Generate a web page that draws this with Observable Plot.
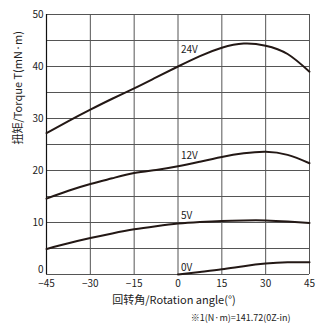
<!DOCTYPE html>
<html>
<head>
<meta charset="utf-8">
<script src="https://cdn.jsdelivr.net/npm/d3@7"></script>
<script src="https://cdn.jsdelivr.net/npm/@observablehq/plot@0.6"></script>
<style>
  html, body { margin: 0; padding: 0; background: #fff; }
</style>
</head>
<body>
<div id="chart"></div>
<script>
const angles = [-45, -37.5, -30, -22.5, -15, -7.5, 0, 7.5, 15, 22.5, 30, 37.5, 45];
const torque24 = [27.2, 29.5, 31.7, 33.8, 35.8, 37.9, 40.0, 42.0, 43.6, 44.4, 44.0, 42.4, 39.0];
const torque12 = [14.6, 16.1, 17.4, 18.5, 19.5, 20.1, 20.8, 21.7, 22.6, 23.3, 23.6, 23.0, 21.4];
const torque5  = [4.9, 6.0, 7.0, 7.9, 8.7, 9.3, 9.8, 10.1, 10.3, 10.4, 10.4, 10.2, 9.9];
const angles0  = [0, 7.5, 15, 22.5, 30, 37.5, 45];
const torque0  = [0, 0.5, 1.0, 1.6, 2.1, 2.35, 2.35];

const seriesNames = ["24V", "12V", "5V", "0V"];
const labelX = [1, 1, 1, 1];
const labelY = [43.2, 22.9, 11.2, 1.2];

const xTicks = [-45, -30, -15, 0, 15, 30, 45];
const yTicks = [10, 20, 30, 40, 50];
const yZeroTick = [0];
const yGrid = [0, 5, 10, 15, 20, 25, 30, 35, 40, 45, 50];

const xTitle = "回转角/Rotation angle(°)";
const yTitle = "扭矩/Torque T(mN·m)";
const caption = "※1(N·m)=141.72(0Z-in)";

const rows = [];
[[angles, torque24, "24V"], [angles, torque12, "12V"], [angles, torque5, "5V"], [angles0, torque0, "0V"]]
  .forEach(([xs, ys, s]) => xs.forEach((a, i) => rows.push({angle: a, torque: ys[i], series: s})));
const labels = seriesNames.map((s, i) => ({series: s, angle: labelX[i], torque: labelY[i]}));

const font = "'Noto Sans CJK JP', 'Noto Sans', sans-serif";

const chart = Plot.plot({
  width: 320,
  height: 326,
  marginLeft: 46,
  marginRight: 11,
  marginTop: 14,
  marginBottom: 52,
  style: {fontFamily: font, fontSize: "10px", color: "#222", background: "#fff"},
  x: {domain: [-45, 45], label: null},
  y: {domain: [0, 50], label: null},
  marks: [
    Plot.ruleY(yGrid, {stroke: "#555", strokeWidth: 1}),
    Plot.ruleX(xTicks, {stroke: "#555", strokeWidth: 1}),
    Plot.ruleX([-45], {stroke: "#111", strokeWidth: 1.2}),
    Plot.line(rows, {x: "angle", y: "torque", z: "series", curve: "natural", stroke: "#231815", strokeWidth: 2}),
    Plot.text(labels, {x: "angle", y: "torque", text: "series", textAnchor: "start", fill: "#222", fontSize: 10}),
    Plot.axisX(xTicks, {tickSize: 0, tickPadding: 5, fontSize: 10, tickFormat: d => d < 0 ? "−" + Math.abs(d) : String(d)}),
    Plot.axisY(yTicks, {tickSize: 0, tickPadding: 3, fontSize: 10}),
    Plot.axisY(yZeroTick, {tickSize: 0, tickPadding: 3, fontSize: 10, dy: -5}),
    Plot.text([xTitle], {frameAnchor: "bottom", dy: 29, dx: -4, fontSize: 11, fill: "#222"}),
    Plot.text([caption], {frameAnchor: "bottom-right", dx: -19, dy: 46, textAnchor: "end", fontSize: 9, fill: "#222"}),
    Plot.text([yTitle], {frameAnchor: "left", dx: -28, rotate: -90, fontSize: 11, fill: "#222"})
  ]
});
document.getElementById("chart").appendChild(chart);
</script>
</body>
</html>
